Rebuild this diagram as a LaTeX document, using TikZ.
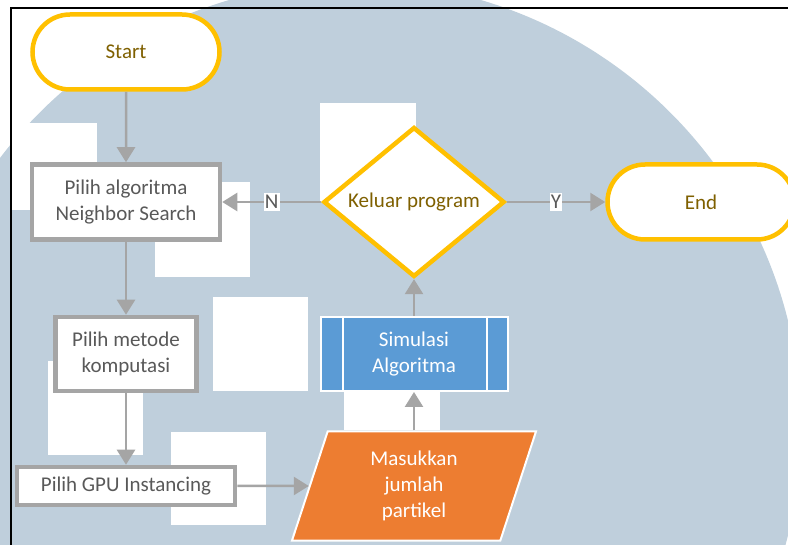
\documentclass[tikz,border=0pt]{standalone}
\usepackage{fontspec}
\setmainfont{Carlito}
\usetikzlibrary{positioning, arrows.meta, shapes.geometric, shapes.misc}

\definecolor{emas}{HTML}{FFC000}
\definecolor{teksemas}{HTML}{7F6000}
\definecolor{abu}{HTML}{A5A5A5}
\definecolor{teksabu}{HTML}{595959}
\definecolor{biru}{HTML}{5B9BD5}
\definecolor{oranye}{HTML}{ED7D31}
\definecolor{latar}{HTML}{BFCFDC}

\begin{document}
\begin{tikzpicture}[x=1pt, y=-1pt, >={Triangle[width=18pt, length=15pt]}, on grid, font=\fontsize{21}{26}\selectfont,
		terminal/.style={rounded rectangle, draw=emas, line width=4.5pt, fill=white, text=teksemas, minimum width=187pt, minimum height=75pt, inner sep=0pt},
		proses/.style={rectangle, draw=abu, line width=4.5pt, fill=white, text=teksabu, align=center, inner sep=0pt},
		keputusan/.style={diamond, draw=emas, line width=4.5pt, fill=white, text=teksemas, minimum width=181pt, minimum height=110pt, inner sep=0pt},
		subproses/.style={rectangle, draw=white, line width=2pt, fill=biru, text=white, align=center, minimum width=187pt, minimum height=74pt, inner sep=0pt},
		masukan/.style={trapezium, trapezium left angle=63, trapezium right angle=117, trapezium stretches body=true, draw=white, line width=2pt, fill=oranye, text=white, align=center, minimum width=244pt, minimum height=109pt, inner sep=0pt},
		panah/.style={->, draw=abu, line width=2.5pt},
		ket/.style={fill=white, text=teksabu, inner xsep=1pt, inner ysep=2pt}
	]
			\useasboundingbox (0,0) rectangle (788,545);
			
			%Latar (watermark):
			\fill[latar] (355,428) circle (446pt);
			\foreach \a/\b/\c/\d in {12/123/97/210, 155/182/250/277, 320/103/416/202, 213/297/308/391, 48/361/143/455, 171/432/266/525, 344/335/440/430}
				\fill[white] (\a,\b) rectangle (\c,\d);
			\draw[line width=2.5pt] (11,560) -- (11,8) -- (800,8);
			
			\node[terminal]											(mulai)   at (126,52)                             {Start};
			\node[proses, minimum width=188pt, minimum height=75pt]	(algo)    [node distance=150pt, below of=mulai]   {Pilih algoritma\\Neighbor Search};
			\node[proses, minimum width=141pt, minimum height=74pt]	(metode)  [node distance=152pt, below of=algo]    {Pilih metode\\komputasi};
			\node[proses, minimum width=218pt, minimum height=38pt]	(gpu)     [node distance=132pt, below of=metode]  {Pilih GPU Instancing};
			\node[masukan]											(masuk)   [node distance=288pt, right of=gpu]     {Masukkan\\jumlah\\partikel};
			\node[subproses]										(sim)     [node distance=132pt, above of=masuk]   {Simulasi\\Algoritma};
			\node[keputusan]										(keluar)  [node distance=152pt, above of=sim]     {Keluar program};
			\node[terminal]											(selesai) [node distance=287pt, right of=keluar]  {End};
			\draw[white, line width=2pt] ([xshift=23pt]sim.north west) -- ([xshift=23pt]sim.south west)
				([xshift=-22pt]sim.north east) -- ([xshift=-22pt]sim.south east);
			
			%Alur:
			\draw[panah] (mulai) -- (algo);
			\draw[panah] (algo) -- (metode);
			\draw[panah] (metode) -- (gpu);
			\draw[panah] (gpu) -- (masuk);
			\draw[panah] (masuk) -- (sim);
			\draw[panah] (sim) -- (keluar);
			\draw[panah] (keluar) -- node[ket] {N} (algo);
			\draw[panah] (keluar) -- node[ket] {Y} (selesai);
		\end{tikzpicture}
\end{document}
